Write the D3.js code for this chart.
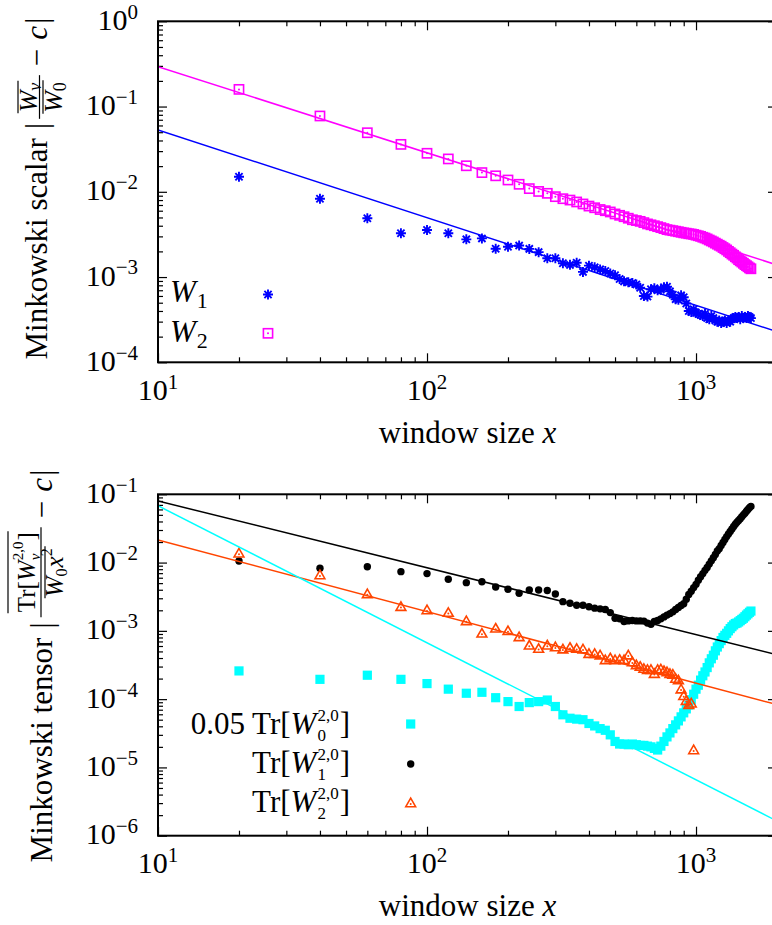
<!DOCTYPE html>
<html>
<head>
<meta charset="utf-8">
<script src="https://cdn.jsdelivr.net/npm/d3@7/dist/d3.min.js"></script>
<style>
  html, body { margin: 0; padding: 0; background: #fff; }
  svg { display: block; }
  text { font-family: "Liberation Serif", "Times New Roman", serif; fill: #000; }
</style>
</head>
<body>
<svg id="chart" width="772" height="925"></svg>
<script>
// Window sizes x at which the functionals were sampled
const windowSizes = [
  20, 40, 60, 80, 100, 120, 140, 160, 180, 200,
  220, 240, 260, 280, 300, 320, 340, 360, 380, 400,
  420, 440, 460, 480, 500, 520, 540, 560, 580, 600,
  620, 640, 660, 680, 700, 720, 740, 760, 780, 800,
  820, 840, 860, 880, 900, 920, 940, 960, 980, 1000,
  1020, 1040, 1060, 1080, 1100, 1120, 1140, 1160, 1180, 1200,
  1220, 1240, 1260, 1280, 1300, 1320, 1340, 1360, 1380, 1400,
  1420, 1440, 1460, 1480, 1500, 1520, 1540, 1560, 1580, 1600
];

// Scalar Minkowski functionals, |<W_nu>/<W_0> - c|
const scalarW1 = [
  0.0150, 0.0083, 0.0049, 0.00326, 0.00356, 0.00326, 0.00277, 0.00284, 0.00215, 0.00227,
  0.00234, 0.00214, 0.00196, 0.00166, 0.00166, 0.00145, 0.00139, 0.00147, 0.00115, 0.00136,
  0.00130, 0.00123, 0.00118, 0.00110, 0.00105, 0.00095, 0.00089, 0.00087, 0.00085, 0.00082,
  0.00075, 0.00060, 0.00059, 0.00072, 0.00074, 0.00070, 0.00071, 0.00076, 0.00077, 0.00068,
  0.00062, 0.00055, 0.00054, 0.00061, 0.00058, 0.00049, 0.00040, 0.00039, 0.00042, 0.00038,
  0.00037, 0.00036, 0.00035, 0.00037, 0.00033, 0.00032, 0.00035, 0.00033, 0.00031, 0.00030,
  0.00031, 0.00029, 0.00030, 0.00031, 0.00029, 0.00031, 0.00030, 0.00032, 0.00033, 0.00034,
  0.00033, 0.00034, 0.00032, 0.00035, 0.00033, 0.00034, 0.00033, 0.00035, 0.00034, 0.00033
];
const scalarW2 = [
  0.159, 0.0775, 0.0493, 0.0360, 0.0283, 0.0243, 0.0202, 0.0168, 0.0154, 0.01375,
  0.01225, 0.0109, 0.0101, 0.0096, 0.00877, 0.0083, 0.0080, 0.0076, 0.0072, 0.0068,
  0.0065, 0.0062, 0.0060, 0.0058, 0.0055, 0.0053, 0.0051, 0.0049, 0.0047, 0.0046,
  0.0045, 0.00435, 0.0042, 0.0041, 0.0040, 0.0039, 0.0038, 0.0037, 0.0036, 0.00355,
  0.0035, 0.00345, 0.0034, 0.00335, 0.0033, 0.00327, 0.00322, 0.0032, 0.00316, 0.0031,
  0.00305, 0.0030, 0.00293, 0.00287, 0.0028, 0.00272, 0.00265, 0.00258, 0.0025, 0.00243,
  0.00236, 0.0023, 0.00222, 0.00215, 0.00208, 0.0020, 0.00193, 0.00186, 0.0018, 0.00173,
  0.00167, 0.0016, 0.00155, 0.0015, 0.00145, 0.0014, 0.00136, 0.00132, 0.00128, 0.00125
];

// Tensor traces (the W0 trace is scaled by 0.05)
const tensorTr0 = [
  2.59e-4, 1.95e-4, 2.24e-4, 1.95e-4, 1.69e-4, 1.40e-4, 1.22e-4, 1.26e-4, 1.05e-4, 9.2e-5,
  7.8e-5, 8.9e-5, 9.2e-5, 9.7e-5, 7.8e-5, 5.9e-5, 5.25e-5, 5.1e-5, 5.0e-5, 4.4e-5,
  4.05e-5, 3.7e-5, 3.5e-5, 3.0e-5, 2.4e-5, 2.2e-5, 2.2e-5, 2.15e-5, 2.2e-5, 2.15e-5,
  2.1e-5, 2.1e-5, 2.05e-5, 2.0e-5, 1.9e-5, 1.8e-5, 2.05e-5, 2.4e-5, 2.8e-5, 3.2e-5,
  3.7e-5, 4.2e-5, 4.8e-5, 5.5e-5, 6.3e-5, 7.2e-5, 8.2e-5, 9.8e-5, 1.18e-4, 1.4e-4,
  1.6e-4, 1.9e-4, 2.2e-4, 2.5e-4, 2.9e-4, 3.4e-4, 3.9e-4, 4.4e-4, 5.1e-4, 5.8e-4,
  6.5e-4, 7.2e-4, 8.0e-4, 8.6e-4, 9.2e-4, 1.0e-3, 1.08e-3, 1.15e-3, 1.22e-3, 1.28e-3,
  1.3e-3, 1.35e-3, 1.41e-3, 1.47e-3, 1.53e-3, 1.61e-3, 1.7e-3, 1.78e-3, 1.87e-3, 1.95e-3
];
const tensorTr1 = [
  0.01055, 0.00824, 0.0087, 0.00736, 0.0069, 0.00569, 0.00508, 0.00525, 0.0044, 0.00406,
  0.00355, 0.00397, 0.00397, 0.0039, 0.00347, 0.00268, 0.00254, 0.00237, 0.00237, 0.00226,
  0.00215, 0.0021, 0.00205, 0.00185, 0.00153, 0.0015, 0.00137, 0.0014, 0.00142, 0.0014,
  0.0014, 0.00139, 0.0013, 0.00125, 0.00137, 0.00142, 0.0015, 0.0016, 0.0017, 0.00179,
  0.0019, 0.00205, 0.0022, 0.00235, 0.0025, 0.0029, 0.0034, 0.0038, 0.0043, 0.0048,
  0.0055, 0.0062, 0.0069, 0.0077, 0.0085, 0.0095, 0.0106, 0.0118, 0.0131, 0.0148,
  0.0160, 0.0178, 0.0197, 0.0218, 0.0240, 0.0262, 0.0285, 0.0310, 0.0338, 0.0365,
  0.0390, 0.0415, 0.0440, 0.0470, 0.0500, 0.0530, 0.0565, 0.0600, 0.0635, 0.0665
];
const tensorTr2 = [
  0.0137, 0.00658, 0.00347, 0.00226, 0.00202, 0.00185, 0.0014, 0.00092, 0.00109, 0.001,
  0.000815, 0.000615, 0.00055, 0.000615, 0.00058, 0.00054, 0.00057, 0.00055, 0.00054, 0.000463,
  0.000463, 0.00044, 0.000375, 0.0004, 0.000375, 0.00038, 0.000375, 0.00044, 0.00035, 0.000316,
  0.0003, 0.00028, 0.00027, 0.00027, 0.000236, 0.00027, 0.000275, 0.00026, 0.00025, 0.000236,
  0.00023, 0.0002, 0.00019, 0.00014, 0.000112, 0.000095, 0.000083, 0.000087, 0.000018
];

// Power-law guides: y = amp * (x / 10) ^ slope
const scalarFits = [
  { series: "W1", amp: 0.053, slope: -1.028 },
  { series: "W2", amp: 0.294, slope: -1.011 }
];
const tensorFits = [
  { series: "Tr1", amp: 0.0798, slope: -0.978 },
  { series: "Tr2", amp: 0.0214, slope: -1.048 },
  { series: "Tr0", amp: 0.068, slope: -2.007 }
];

const xExtent = [10, 2000];
const xTickValues = [10, 100, 1000];
const scalarTickValues = [1e-4, 1e-3, 1e-2, 1e-1, 1];
const tensorTickValues = [1e-6, 1e-5, 1e-4, 1e-3, 1e-2, 1e-1];

const colors = { W1: "#0000ff", W2: "#ff00ff", Tr0: "#00ffff", Tr1: "#000000", Tr2: "#ff4500" };

const svg = d3.select("#chart");
const X0 = 158, X1 = 777;
const x = d3.scaleLog().domain(xExtent).range([X0, X1]);

const minorsOf = decades => decades.flatMap(d => [2, 3, 4, 5, 6, 7, 8, 9].map(m => d * m));

// ---------- text helpers ----------
function mathRun(g, items) {
  let cx = 0;
  items.forEach(it => {
    if (it.frac) {
      const f = it.frac;
      cx += f.gap || 0;
      const gN = g.append("g"), gD = g.append("g");
      const wN = mathRun(gN, f.num), wD = mathRun(gD, f.den);
      const w = Math.max(wN, wD) + 2 * f.pad;
      gN.attr("transform", `translate(${cx + (w - wN) / 2},${f.numY})`);
      gD.attr("transform", `translate(${cx + (w - wD) / 2},${f.denY})`);
      const rule = (a, b, yy) => g.append("line").attr("x1", a).attr("x2", b)
        .attr("y1", yy).attr("y2", yy).attr("stroke", "#000").attr("stroke-width", 1.2);
      rule(cx, cx + w, f.barY);
      rule(cx + (w - wN) / 2 - 1, cx + (w + wN) / 2 + 1, f.numOver);
      rule(cx + (w - wD) / 2 - 1, cx + (w + wD) / 2 + 1, f.denOver);
      cx += w + (f.after || 0);
    } else if (it.t !== undefined) {
      cx += it.pre || 0;
      const n = g.append("text").attr("x", cx).attr("y", it.dy || 0)
        .attr("font-size", it.size).text(it.t);
      if (it.it) n.attr("font-style", "italic");
      cx += n.node().getComputedTextLength() + (it.kern || 0);
    } else {
      let w = 0;
      if (it.sup) {
        const dx = it.supDx || 0;
        const n = g.append("text").attr("x", cx + dx).attr("y", -it.up)
          .attr("font-size", it.size).text(it.sup);
        w = Math.max(w, n.node().getComputedTextLength() + dx);
      }
      if (it.sub) {
        const dx = it.subDx || 0;
        const n = g.append("text").attr("x", cx + dx).attr("y", it.down)
          .attr("font-size", it.size).text(it.sub);
        if (it.subIt) n.attr("font-style", "italic");
        w = Math.max(w, n.node().getComputedTextLength() + dx);
      }
      cx += w + 1;
    }
  });
  return cx;
}

function powerLabel(sel, v, size) {
  const e = Math.round(Math.log10(v));
  sel.append("tspan").text("10");
  sel.append("tspan").attr("dy", -size * 0.37).attr("font-size", size * 0.7)
    .text(String(e).replace("-", "\u2212"));
}

// ---------- markers ----------
const markers = {
  W1: (g, c) => g.append("path").attr("d", "M-5,0H5M0,-5V5M-3.6,-3.6L3.6,3.6M-3.6,3.6L3.6,-3.6")
      .attr("stroke", c).attr("stroke-width", 1.9).attr("fill", "none"),
  W2: (g, c) => { g.append("rect").attr("x", -4.6).attr("y", -4.6).attr("width", 9.2).attr("height", 9.2)
      .attr("fill", "none").attr("stroke", c).attr("stroke-width", 1.6);
      g.append("circle").attr("r", 1).attr("fill", c); },
  Tr0: (g, c) => g.append("rect").attr("x", -4.6).attr("y", -4.6).attr("width", 9.2).attr("height", 9.2).attr("fill", c),
  Tr1: (g, c) => g.append("circle").attr("r", 3.7).attr("fill", c),
  Tr2: (g, c) => { g.append("path").attr("d", "M0,-4.8L4.9,3.7L-4.9,3.7Z")
      .attr("fill", "none").attr("stroke", c).attr("stroke-width", 1.6).attr("stroke-linejoin", "miter");
      g.append("circle").attr("cy", 0.9).attr("r", 1).attr("fill", c); }
};

// ---------- panel ----------
function drawPanel(cfg) {
  const { name, top, bottom, yDomain, yTicks, series, fits, tickLabelY, xLabelY } = cfg;
  const y = d3.scaleLog().domain(yDomain).range([bottom, top]);
  const clipId = "clip-" + name;
  svg.append("defs").append("clipPath").attr("id", clipId)
    .append("rect").attr("x", X0).attr("y", top).attr("width", X1 - X0).attr("height", bottom - top);

  const xMinor = minorsOf(xTickValues).filter(v => v <= xExtent[1]);
  const yMinor = minorsOf(yTicks.slice(0, -1));

  const axes = [
    [d3.axisBottom(x), `translate(0,${bottom})`, xTickValues, xMinor],
    [d3.axisTop(x), `translate(0,${top})`, xTickValues, xMinor],
    [d3.axisLeft(y), `translate(${X0},0)`, yTicks, yMinor],
    [d3.axisRight(y), `translate(${X1},0)`, yTicks, yMinor]
  ];
  axes.forEach(([ax, tr, major, minor]) => {
    [[major, 9], [minor, 5]].forEach(([vals, len]) => {
      const g = svg.append("g").attr("transform", tr)
        .call(ax.tickValues(vals).tickSizeInner(-len).tickSizeOuter(0).tickFormat(() => ""));
      g.select(".domain").remove();
      g.selectAll("line").attr("stroke", "#000").attr("stroke-width", 1.2);
    });
  });

  const plot = svg.append("g").attr("clip-path", `url(#${clipId})`);

  // data points
  series.forEach(s => {
    const pts = s.values.map((v, i) => [windowSizes[i], v]);
    plot.append("g").selectAll("g").data(pts).join("g")
      .attr("transform", d => `translate(${x(d[0])},${y(d[1])})`)
      .each(function () { markers[s.key](d3.select(this), colors[s.key]); });
  });

  // power-law guides
  const line = d3.line();
  fits.forEach(f => {
    plot.append("path")
      .attr("d", line(xExtent.map(v => [x(v), y(f.amp * Math.pow(v / 10, f.slope))])))
      .attr("fill", "none").attr("stroke", colors[f.series]).attr("stroke-width", 1.5);
  });

  // frame
  svg.append("rect").attr("x", X0).attr("y", top).attr("width", X1 - X0).attr("height", bottom - top)
    .attr("fill", "none").attr("stroke", "#000").attr("stroke-width", 2);

  // tick labels
  yTicks.forEach(v => {
    const t = svg.append("text").attr("x", 138).attr("y", y(v) + 8.5)
      .attr("text-anchor", "end").attr("font-size", 30);
    powerLabel(t, v, 30);
  });
  xTickValues.forEach(v => {
    const t = svg.append("text").attr("x", x(v)).attr("y", tickLabelY)
      .attr("text-anchor", "middle").attr("font-size", 30);
    powerLabel(t, v, 30);
  });

  // x label
  const xl = svg.append("text").attr("x", (X0 + X1) / 2).attr("y", xLabelY)
    .attr("text-anchor", "middle").attr("font-size", 31);
  xl.append("tspan").text("window size ");
  xl.append("tspan").attr("font-style", "italic").text("x");

  return y;
}

drawPanel({
  name: "scalar", top: 21.3, bottom: 362.3, yDomain: [1e-4, 1], yTicks: scalarTickValues,
  series: [{ key: "W2", values: scalarW2 }, { key: "W1", values: scalarW1 }],
  fits: scalarFits, tickLabelY: 400, xLabelY: 443
});
drawPanel({
  name: "tensor", top: 494.3, bottom: 835.7, yDomain: [1e-6, 1e-1], yTicks: tensorTickValues,
  series: [{ key: "Tr0", values: tensorTr0 }, { key: "Tr1", values: tensorTr1 }, { key: "Tr2", values: tensorTr2 }],
  fits: tensorFits, tickLabelY: 873, xLabelY: 916
});

// ---------- rotated y labels ----------
function rotatedLabel(bx, cy, items) {
  const outer = svg.append("g").attr("transform", `translate(${bx},${cy}) rotate(-90)`);
  const inner = outer.append("g");
  const w = mathRun(inner, items);
  inner.attr("transform", `translate(${-w / 2},0)`);
}

rotatedLabel(47, 188.5, [
  { t: "Minkowski scalar", size: 31 },
  { t: "|", size: 32, pre: 9, kern: 1 },
  { frac: { gap: 3, pad: 6, after: 0, numY: -10, denY: 15, barY: -7.5, numOver: -29, denOver: -4,
    num: [{ t: "W", it: true, size: 26 }, { sub: "\u03bd", subIt: true, size: 18, down: 4, subDx: 0 }],
    den: [{ t: "W", it: true, size: 26 }, { sub: "0", size: 18, down: 4, subDx: 0 }] } },
  { t: "\u2212", size: 31, pre: 9, kern: 9 },
  { t: "c", it: true, size: 31, kern: 2 },
  { t: "|", size: 32 }
]);

rotatedLabel(52, 666, [
  { t: "Minkowski tensor", size: 31 },
  { t: "|", size: 32, pre: 9, kern: 1 },
  { frac: { gap: 4, pad: 5, after: 0, numY: -17, denY: 11, barY: -11, numOver: -44, denOver: -7,
    num: [{ t: "Tr[", size: 25 }, { t: "W", it: true, size: 25 },
          { sup: "2,0", sub: "\u03bd", subIt: true, size: 15, up: 12, down: 5, subDx: 0 },
          { t: "]", size: 25 }],
    den: [{ t: "W", it: true, size: 25 }, { sub: "0", size: 16, down: 4, subDx: 0 },
          { t: "x", it: true, size: 25 }, { sup: "2", size: 16, up: 11 }] } },
  { t: "\u2212", size: 31, pre: 9, kern: 9 },
  { t: "c", it: true, size: 31, kern: 2 },
  { t: "|", size: 32 }
]);

// ---------- legends ----------
function legendEntry(key, mx, my, tx, ty, items, alignRight) {
  const g = svg.append("g");
  const w = mathRun(g, items);
  g.attr("transform", `translate(${alignRight ? tx - w : tx},${ty})`);
  markers[key](svg.append("g").attr("transform", `translate(${mx},${my})`), colors[key]);
}

legendEntry("W1", 268, 294.5, 170, 302, [
  { t: "W", it: true, size: 31, kern: 1 }, { sub: "1", size: 22, down: 6, subDx: 0 }
], false);
legendEntry("W2", 268, 333.3, 170, 341.5, [
  { t: "W", it: true, size: 31, kern: 1 }, { sub: "2", size: 22, down: 6, subDx: 0 }
], false);

const trItems = (pre, idx) => [
  { t: pre + "Tr[", size: 31 }, { t: "W", it: true, size: 31, kern: 1 },
  { sup: "2,0", sub: idx, size: 17, up: 13, down: 7, subDx: 0 },
  { t: "]", size: 31 }
];
legendEntry("Tr0", 410.7, 724, 350, 733.5, trItems("0.05 ", "0"), true);
legendEntry("Tr1", 410.7, 764, 350, 773, trItems("", "1"), true);
legendEntry("Tr2", 410.7, 803, 350, 811.5, trItems("", "2"), true);
</script>
</body>
</html>
